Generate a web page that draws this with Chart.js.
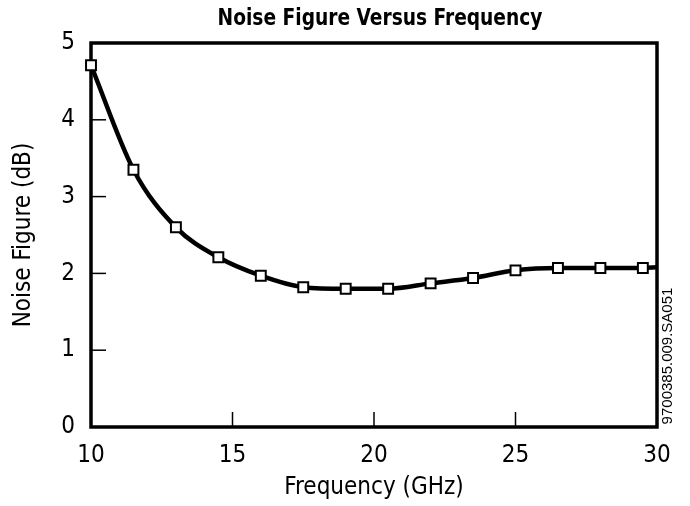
<!DOCTYPE html>
<html>
<head>
<meta charset="utf-8">
<script src="https://cdn.jsdelivr.net/npm/chart.js@4.4.1/dist/chart.umd.min.js"></script>
<style>
  html, body { margin: 0; padding: 0; background: #fff; }
  #wrap { width: 690px; height: 506px; position: relative; }
</style>
</head>
<body>
<div id="wrap"><canvas id="nfChart"></canvas></div>
<script>
// Noise figure vs frequency
const freqGHz = [10, 11.5, 13, 14.5, 16, 17.5, 19, 20.5, 22, 23.5, 25, 26.5, 28, 29.5, 30];
const noiseDb = [4.71, 3.35, 2.6, 2.21, 1.97, 1.82, 1.8, 1.8, 1.87, 1.94, 2.04, 2.07, 2.07, 2.07, 2.08];
// last point only carries the curve to the frame, no marker there
const hasMarker = [1, 1, 1, 1, 1, 1, 1, 1, 1, 1, 1, 1, 1, 1, 0];
const xTicks = [10, 15, 20, 25, 30];
const yTicks = [0, 1, 2, 3, 4, 5];

const FONT = '"DejaVu Sans Condensed", "Liberation Sans Narrow", "Arial Narrow", sans-serif';

const framePlugin = {
  id: 'frame',
  beforeDatasetsDraw(chart) {
    const { ctx, chartArea: a, scales } = chart;
    ctx.save();
    ctx.strokeStyle = '#000';
    // inward ticks
    ctx.lineWidth = 1.5;
    yTicks.slice(1, -1).forEach(v => {
      const y = scales.y.getPixelForValue(v);
      ctx.beginPath(); ctx.moveTo(a.left, y); ctx.lineTo(a.left + 15, y); ctx.stroke();
    });
    xTicks.slice(1, -1).forEach(v => {
      const x = scales.x.getPixelForValue(v);
      ctx.beginPath(); ctx.moveTo(x, a.bottom); ctx.lineTo(x, a.bottom - 15); ctx.stroke();
    });
    // frame
    ctx.lineWidth = 3.5;
    ctx.strokeRect(a.left, a.top, a.right - a.left, a.bottom - a.top);
    ctx.restore();
  },
  afterDraw(chart) {
    const { ctx } = chart;
    ctx.save();
    ctx.fillStyle = '#000';
    ctx.textAlign = 'center';
    ctx.textBaseline = 'middle';
    // title, squeezed a bit to look like the condensed original
    ctx.save();
    ctx.translate(380, 19);
    ctx.scale(0.9, 1);
    ctx.font = 'bold 23px ' + FONT;
    ctx.fillText('Noise Figure Versus Frequency', 0, 0);
    ctx.restore();
    // figure id along the right edge
    ctx.translate(668, 356);
    ctx.rotate(-Math.PI / 2);
    ctx.font = '15px "Liberation Sans", Arial, sans-serif';
    ctx.fillText('9700385.009.SA051', 0, 0);
    ctx.restore();
  }
};

new Chart(document.getElementById('nfChart'), {
  type: 'line',
  data: {
    datasets: [{
      data: freqGHz.map((f, i) => ({ x: f, y: noiseDb[i] })),
      borderColor: '#000',
      borderWidth: 4.5,
      cubicInterpolationMode: 'monotone',
      pointStyle: 'rect',
      pointRadius: hasMarker.map(m => m ? 7 : 0),
      pointHoverRadius: hasMarker.map(m => m ? 7 : 0),
      pointBackgroundColor: '#fff',
      pointBorderColor: '#000',
      pointBorderWidth: 2,
      clip: false
    }]
  },
  options: {
    responsive: true,
    maintainAspectRatio: false,
    animation: false,
    layout: { padding: { top: 43, right: 33, left: 0, bottom: 0 } },
    plugins: { legend: { display: false }, tooltip: { enabled: false } },
    scales: {
      x: {
        type: 'linear', min: 10, max: 30,
        afterFit(s) { s.height = 79; },
        afterBuildTicks(s) { s.ticks = xTicks.map(v => ({ value: v })); },
        grid: { display: false, drawTicks: false },
        border: { display: false },
        ticks: { color: '#000', padding: 14, font: { family: FONT, size: 24 } },
        title: { display: true, text: 'Frequency (GHz)', color: '#000', padding: { top: 0, bottom: 4 }, font: { family: FONT, size: 24 } }
      },
      y: {
        min: 0, max: 5,
        afterFit(s) { s.width = 91; },
        afterBuildTicks(s) { s.ticks = yTicks.map(v => ({ value: v })); },
        grid: { display: false, drawTicks: false },
        border: { display: false },
        ticks: { color: '#000', padding: 16, font: { family: FONT, size: 24 } },
        title: { display: true, text: 'Noise Figure (dB)', color: '#000', padding: { top: 9, bottom: 0 }, font: { family: FONT, size: 24 } }
      }
    }
  },
  plugins: [framePlugin]
});
</script>
</body>
</html>
